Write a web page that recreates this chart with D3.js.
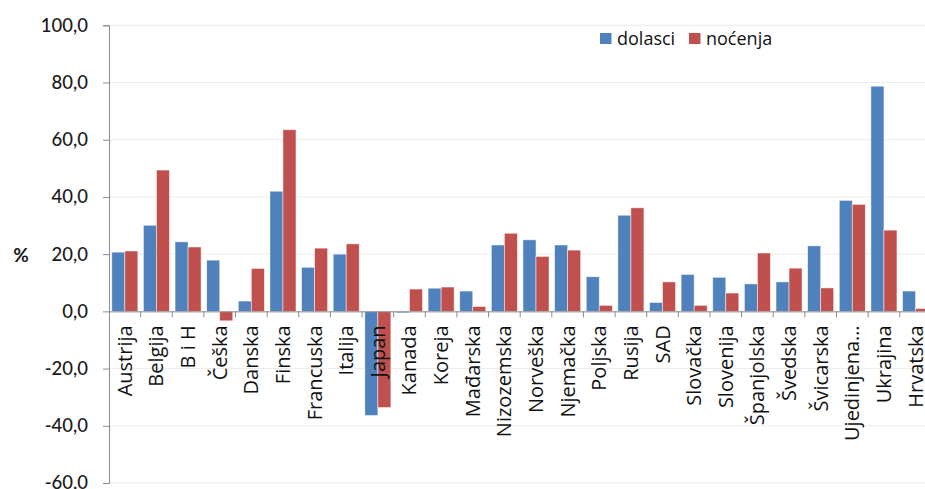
<!DOCTYPE html>
<html><head><meta charset="utf-8">
<script src="https://cdn.jsdelivr.net/npm/d3@7"></script>
<style>body{margin:0;background:#fff;}svg{display:block;}</style>
</head><body>
<script>
const categories = ["Austrija","Belgija","B i H","Češka","Danska","Finska","Francuska","Italija","Japan","Kanada","Koreja","Mađarska","Nizozemska","Norveška","Njemačka","Poljska","Rusija","SAD","Slovačka","Slovenija","Španjolska","Švedska","Švicarska","Ujedinjena…","Ukrajina","Hrvatska"];
const dolasci = [20.7,30.1,24.3,17.9,3.6,42.0,15.4,20.0,-36.4,-0.5,8.1,7.1,23.2,25.0,23.2,12.1,33.6,3.1,12.9,11.9,9.6,10.3,22.9,38.8,78.7,7.1];
const nocenja = [21.1,49.4,22.5,-3.3,15.0,63.5,22.1,23.6,-33.6,7.8,8.5,1.7,27.3,19.2,21.4,2.1,36.2,10.3,2.1,6.4,20.4,15.1,8.2,37.4,28.4,1.0];
const yTicks = [-60,-40,-20,0,20,40,60,80,100];
const seriesNames = ["dolasci","noćenja"];
const colors = ["#4F81BD","#C0504D"];

const W = 925, H = 489;
const svg = d3.select("body").append("svg").attr("width",W).attr("height",H);
const x0 = 109, x1 = 109 + 26*31.63;
const y = d3.scaleLinear().domain([-60,100]).range([483,25.3]);
const x = d3.scaleBand().domain(categories).range([x0,x1]).paddingInner(0).paddingOuter(0);
const inner = d3.scaleBand().domain([0,1]).range([0,x.bandwidth()]).paddingOuter(0.215).paddingInner(0);

// gridlines
svg.append("g").selectAll("line").data(yTicks).join("line")
  .attr("x1",x0).attr("x2",W).attr("y1",d=>y(d)).attr("y2",d=>y(d))
  .attr("stroke","#ececec").attr("stroke-width",1);

// bars
const series = [dolasci, nocenja];
series.forEach((vals,si)=>{
  svg.append("g").selectAll("rect").data(vals).join("rect")
    .attr("x",(d,i)=>x(categories[i])+inner(si))
    .attr("width",inner.bandwidth())
    .attr("y",d=>Math.min(y(d),y(0)))
    .attr("height",d=>Math.abs(y(d)-y(0)))
    .attr("fill",colors[si])
    .attr("stroke","rgba(255,255,255,0.6)").attr("stroke-width",0.8);
});

// y axis
const yAxis = d3.axisLeft(y).tickValues(yTicks).tickSize(6).tickFormat(d=>d3.format(".1f")(d).replace(".",",").replace("\u2212","-"));
const ga = svg.append("g").attr("transform",`translate(${x0},0)`).call(yAxis);
ga.select(".domain").attr("stroke","#8c8c8c");
ga.selectAll(".tick line").attr("stroke","#8c8c8c");
ga.selectAll(".tick text").attr("x",-21).attr("font-family","Lato, sans-serif").attr("font-size",18.5).attr("fill","#1a1a1a").attr("font-weight",500);

// x axis at zero
const xAxis = d3.axisBottom(x).tickSize(0).tickFormat("");
const gx = svg.append("g").attr("transform",`translate(0,${y(0)})`).call(xAxis);
gx.select(".domain").attr("stroke","#8c8c8c");
// category separator ticks
svg.append("g").selectAll("line").data(d3.range(1,categories.length+1)).join("line")
  .attr("x1",i=>x0+i*x.step()).attr("x2",i=>x0+i*x.step())
  .attr("y1",y(0)).attr("y2",y(0)+6).attr("stroke","#8c8c8c");

// category labels
svg.append("g").selectAll("text").data(categories).join("text")
  .attr("transform",d=>`translate(${x(d)+x.bandwidth()/2+7},${y(0)+14}) rotate(-90)`)
  .attr("text-anchor","end")
  .attr("font-family","'Open Sans', sans-serif").attr("font-size",20).attr("fill","#111")
  .text(d=>d);

// % label
svg.append("text").attr("x",21).attr("y",262).attr("text-anchor","middle")
  .attr("font-family","Lato, sans-serif").attr("font-size",19).attr("font-weight",700).attr("fill","#1a1a1a").text("%");

// legend
const leg = svg.append("g");
const legX = [600, 689];
seriesNames.forEach((n,i)=>{
  leg.append("rect").attr("x",legX[i]).attr("y",33).attr("width",11.5).attr("height",11).attr("fill",colors[i]);
  leg.append("text").attr("x",legX[i]+17).attr("y",45).attr("font-family","'Open Sans', sans-serif")
    .attr("font-size",18).attr("fill","#111").text(n);
});
</script>
</body></html>
